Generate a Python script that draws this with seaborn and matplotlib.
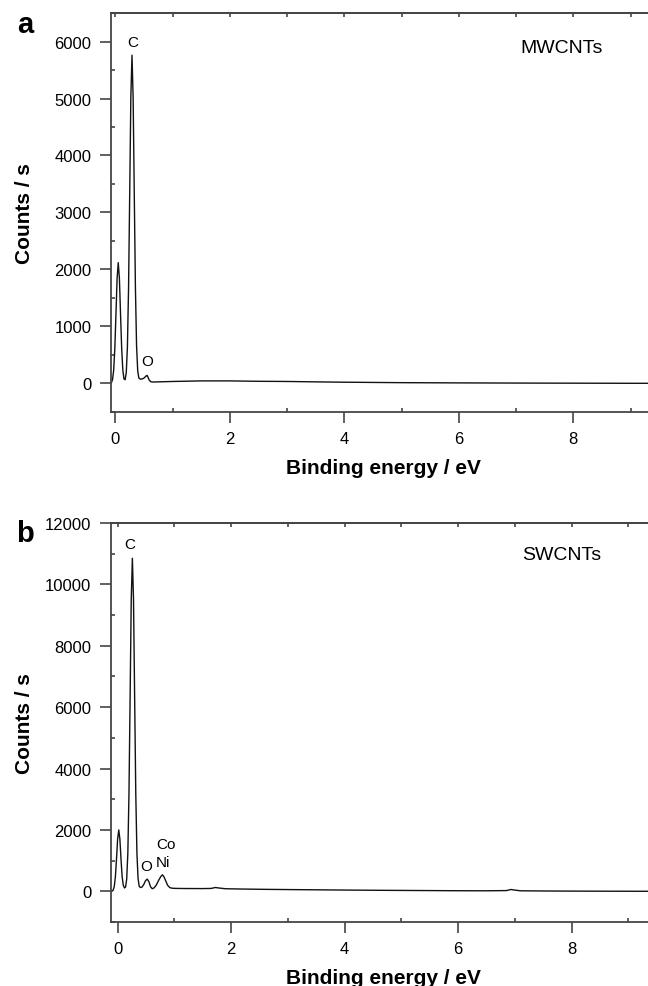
import numpy as np
import pandas as pd
import matplotlib
matplotlib.use("Agg")
import matplotlib.pyplot as plt
import seaborn as sns
from matplotlib.ticker import MultipleLocator

# ---------------- data ----------------
mw_energy = [-0.09, -0.07, -0.05, -0.03, -0.01, 0.01, 0.03, 0.05, 0.07, 0.09, 0.11,
             0.13, 0.15, 0.17, 0.19, 0.21, 0.23, 0.25, 0.27, 0.29, 0.31, 0.33, 0.35,
             0.37, 0.39, 0.41, 0.44, 0.47, 0.50, 0.52, 0.54, 0.555, 0.57, 0.59, 0.62,
             0.66, 0.75, 1.0, 1.5, 2.0, 2.5, 3.0, 3.5, 4.0, 4.5, 5.0, 6.0, 7.0, 8.0,
             9.0, 9.35]
mw_counts = [2, 14, 67, 231, 611, 1218, 1846, 2120, 1846, 1218, 611,
             235, 80, 65, 190, 640, 1670, 3320, 5020, 5760, 5020, 3320, 1680,
             660, 220, 95, 75, 80, 95, 115, 135, 140, 110, 60, 30,
             25, 28, 35, 45, 45, 38, 35, 28, 22, 18, 14, 10, 7, 5,
             3, 3]

sw_energy = [-0.12, -0.10, -0.08, -0.06, -0.04, -0.02, 0.0, 0.02, 0.04, 0.06, 0.08,
             0.10, 0.12, 0.14, 0.16, 0.18, 0.20, 0.22, 0.24, 0.26, 0.28, 0.30, 0.32,
             0.34, 0.36, 0.38, 0.40, 0.43, 0.46, 0.49, 0.52, 0.55, 0.58, 0.61, 0.64,
             0.68, 0.72, 0.76, 0.79, 0.82, 0.85, 0.88, 0.92, 0.97, 1.05, 1.2, 1.5,
             1.65, 1.72, 1.78, 1.9, 2.2, 2.6, 3.0, 3.5, 4.0, 4.5, 5.0, 5.5, 6.0, 6.5,
             6.85, 6.93, 7.0, 7.1, 7.5, 8.0, 8.5, 9.0, 9.4]
sw_counts = [1, 5, 35, 150, 460, 1040, 1700, 2000, 1700, 1040, 470,
             200, 110, 140, 400, 1240, 3180, 6300, 9500, 10850, 9500, 6300, 3180,
             1250, 420, 170, 125, 140, 220, 340, 400, 320, 150, 85, 110,
             200, 350, 480, 540, 460, 330, 200, 120, 100, 95, 92, 90,
             95, 125, 110, 85, 75, 65, 58, 50, 42, 35, 30, 25, 20, 18,
             25, 60, 40, 18, 12, 8, 5, 3, 2]

mw_peak_labels = ["C", "O"]
mw_peak_x = [0.30, 0.55]
mw_peak_y = [6000, 393]

sw_peak_labels = ["C", "O", "Co", "Ni"]
sw_peak_x = [0.22, 0.50, 0.68, 0.68]
sw_peak_y = [11310, 830, 1540, 950]

panel_letters = ["a", "b"]
sample_names = ["MWCNTs", "SWCNTs"]
x_ticks = [0, 2, 4, 6, 8]
mw_y_ticks = [0, 1000, 2000, 3000, 4000, 5000, 6000]
sw_y_ticks = [0, 2000, 4000, 6000, 8000, 10000, 12000]

# ---------------- style ----------------
sns.set_theme(style="ticks")
plt.rcParams["font.family"] = ["Liberation Sans", "DejaVu Sans"]
plt.rcParams["axes.edgecolor"] = "#454545"
plt.rcParams["axes.linewidth"] = 1.3
plt.rcParams["text.color"] = "black"
plt.rcParams["axes.labelcolor"] = "black"
plt.rcParams["xtick.labelcolor"] = "black"
plt.rcParams["ytick.labelcolor"] = "black"

fig = plt.figure(figsize=(6.48, 9.87), dpi=100)
ax_top = fig.add_axes([0.171, 0.5816, 0.84, 0.4042])
ax_bot = fig.add_axes([0.171, 0.0648, 0.84, 0.4043])

df_mw = pd.DataFrame({"energy": mw_energy, "counts": mw_counts})
df_sw = pd.DataFrame({"energy": sw_energy, "counts": sw_counts})

sns.lineplot(data=df_mw, x="energy", y="counts", ax=ax_top, color="#111111",
             linewidth=1.0, estimator=None, sort=False)
sns.lineplot(data=df_sw, x="energy", y="counts", ax=ax_bot, color="#111111",
             linewidth=1.0, estimator=None, sort=False)

# right limit chosen so the right frame falls just outside the picture
ax_top.set_xlim(-0.08, 9.43)
ax_top.set_ylim(-500, 6500)
ax_bot.set_xlim(-0.12, 9.47)
ax_bot.set_ylim(-1000, 12000)

for ax, yt, yminor in [(ax_top, mw_y_ticks, 500), (ax_bot, sw_y_ticks, 1000)]:
    ax.set_xticks(x_ticks)
    ax.set_yticks(yt)
    ax.xaxis.set_minor_locator(MultipleLocator(1))
    ax.yaxis.set_minor_locator(MultipleLocator(yminor))
    ax.tick_params(which="major", direction="out", length=8, width=1.2,
                   color="#454545", labelsize=12, pad=6, labelcolor="black")
    ax.tick_params(which="minor", direction="in", length=3, width=1.2,
                   color="#454545")
    ax.set_xlabel("Binding energy / eV", fontsize=15, fontweight="bold",
                  labelpad=8, color="black")
    ax.set_ylabel("Counts / s", fontsize=15, fontweight="bold", color="black")
    ax.yaxis.set_label_coords(-0.142, 0.5)
    sec = ax.secondary_xaxis("top")
    sec.set_xticks(list(range(0, 10)))
    sec.tick_params(direction="in", length=3, width=1.2, color="#454545",
                    labeltop=False)
    for s in ["top", "right", "left", "bottom"]:
        ax.spines[s].set_visible(True)

for lab, x, y in zip(mw_peak_labels, mw_peak_x, mw_peak_y):
    ax_top.text(x, y, lab, fontsize=11, ha="center", va="center", color="black")
for lab, x, y in zip(sw_peak_labels, sw_peak_x, sw_peak_y):
    ax_bot.text(x, y, lab, fontsize=11, ha="left" if lab in ("Co", "Ni") else "center",
                va="center", color="black")

ax_top.text(7.80, 5900, sample_names[0], fontsize=14, ha="center", va="center",
            color="black")
ax_bot.text(7.83, 10980, sample_names[1], fontsize=14, ha="center", va="center",
            color="black")

fig.text(25 / 648, 1 - 33 / 987, panel_letters[0], fontsize=21, fontweight="bold",
         ha="center", va="baseline", color="black")
fig.text(25 / 648, 1 - 542 / 987, panel_letters[1], fontsize=21, fontweight="bold",
         ha="center", va="baseline", color="black")

fig.savefig("out.png", dpi=100)
